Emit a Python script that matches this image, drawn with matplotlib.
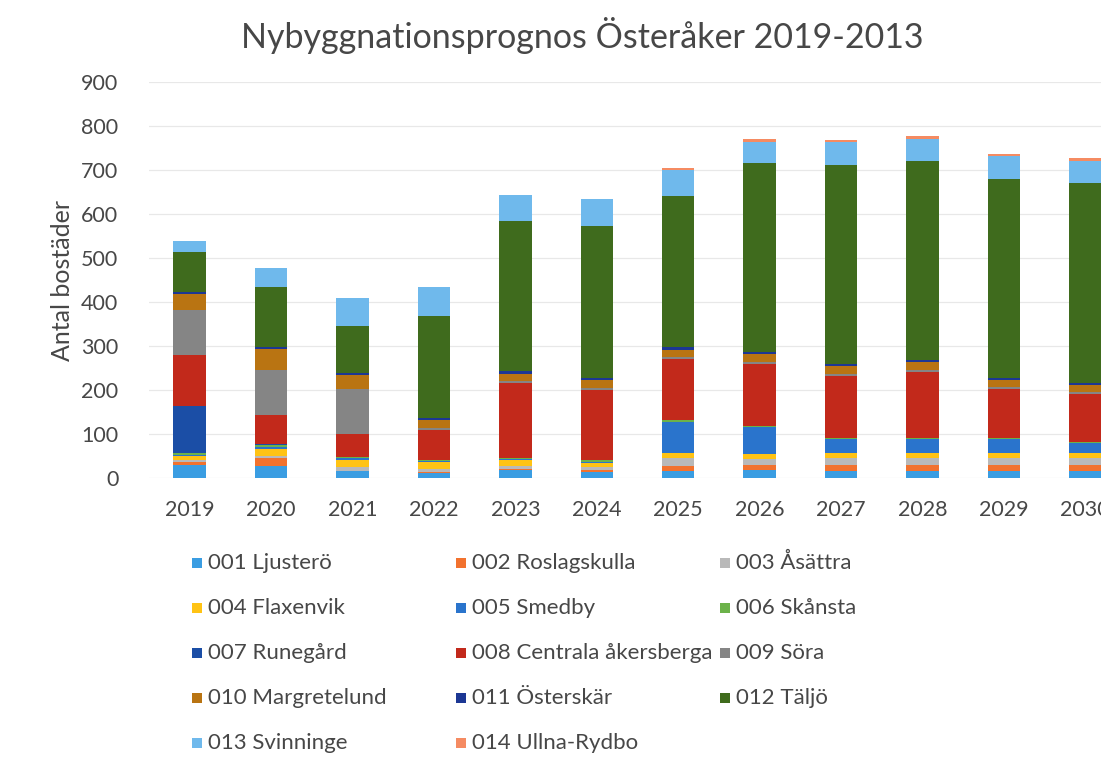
import matplotlib
matplotlib.use("Agg")
import matplotlib.pyplot as plt
import numpy as np
from matplotlib.patches import Rectangle

years = ["2019", "2020", "2021", "2022", "2023", "2024", "2025", "2026", "2027", "2028", "2029", "2030"]
series_names = ["001 Ljusterö", "002 Roslagskulla", "003 Åsättra", "004 Flaxenvik", "005 Smedby",
                "006 Skånsta", "007 Runegård", "008 Centrala åkersberga", "009 Söra",
                "010 Margretelund", "011 Österskär", "012 Täljö", "013 Svinninge", "014 Ullna-Rydbo"]
colors = ["#3a9de2", "#f2722e", "#b9b9b9", "#ffc314", "#2a74cc", "#6cb24a", "#1b4ea6",
          "#c2291b", "#858585", "#b97412", "#1c3794", "#3f6b1d", "#6fb9ec", "#f58b62"]

ljustero     = [30, 28, 15, 11, 18, 14, 16, 18, 17, 17, 17, 17]
roslagskulla = [6, 17, 2, 3, 3, 4, 12, 11, 13, 13, 13, 13]
asattra      = [6, 6, 8, 6, 6, 6, 17, 15, 15, 15, 15, 15]
flaxenvik    = [8, 14, 17, 17, 14, 11, 11, 11, 11, 11, 11, 11]
smedby       = [3, 6, 3, 2, 2, 2, 72, 62, 32, 32, 32, 23]
skansta      = [3, 4, 3, 2, 3, 4, 3, 2, 2, 2, 2, 2]
runegard     = [108, 2, 0, 0, 0, 0, 0, 0, 0, 0, 0, 0]
centrala     = [116, 67, 52, 69, 169, 159, 139, 140, 142, 152, 112, 110]
sora         = [101, 101, 102, 4, 5, 4, 5, 4, 4, 4, 4, 4]
margretelund = [37, 48, 31, 17, 17, 18, 17, 19, 19, 18, 17, 17]
osterskar    = [4, 5, 5, 5, 6, 5, 5, 5, 5, 5, 5, 5]
taljo        = [91, 136, 108, 233, 342, 345, 345, 428, 452, 451, 451, 453]
svinninge    = [25, 44, 64, 65, 59, 61, 57, 49, 51, 51, 52, 51]
ullna        = [0, 0, 0, 0, 0, 0, 5, 6, 6, 6, 6, 6]

data = [ljustero, roslagskulla, asattra, flaxenvik, smedby, skansta, runegard,
        centrala, sora, margretelund, osterskar, taljo, svinninge, ullna]

plt.rcParams['font.family'] = ['Lato', 'DejaVu Sans']
txt = "#474747"

fig = plt.figure(figsize=(11.01, 7.57), dpi=100)
W, H = 1101, 757
ax = fig.add_axes([149 / W, 1 - 478 / H, 977 / W, 396 / H])

x = np.arange(len(years))
bottom = np.zeros(len(years))
for vals, col, name in zip(data, colors, series_names):
    ax.bar(x, vals, bottom=bottom, width=0.4, color=col, label=name, zorder=3)
    bottom += np.array(vals)

ax.set_xlim(-0.5, len(years) - 0.5)
ax.set_ylim(0, 900)
ax.set_yticks(np.arange(0, 901, 100))
ax.set_xticks(x)
ax.set_xticklabels(years)
ax.tick_params(axis='both', length=0, labelsize=15.5, labelcolor=txt)
ax.tick_params(axis='x', pad=16)
ax.tick_params(axis='y', pad=22)
ax.grid(axis='y', color='#e8e8e8', linewidth=0.9, zorder=0)
for s in ax.spines.values():
    s.set_visible(False)
fig.text(62 / W, 1 - 280 / H, "Antal bostäder", rotation=90, ha='center', va='center',
         fontsize=18, color=txt)

fig.text(582 / W, 1 - 35 / H, "Nybyggnationsprognos Österåker 2019-2013",
         ha='center', va='center', fontsize=24.5, color=txt)

# legend (row-major, 3 columns)
col_x = [197, 461, 725]
row_y = [563, 608, 653, 698, 743]
for i, (name, col) in enumerate(zip(series_names, colors)):
    r, c = divmod(i, 3)
    mx, my = col_x[c], row_y[r]
    fig.patches.append(Rectangle(((mx - 5) / W, 1 - (my + 5) / H), 10 / W, 10 / H,
                                 transform=fig.transFigure, facecolor=col, edgecolor='none'))
    fig.text((mx + 11) / W, 1 - my / H, name, ha='left', va='center', fontsize=16, color=txt)

fig.savefig("out.png", dpi=100)
